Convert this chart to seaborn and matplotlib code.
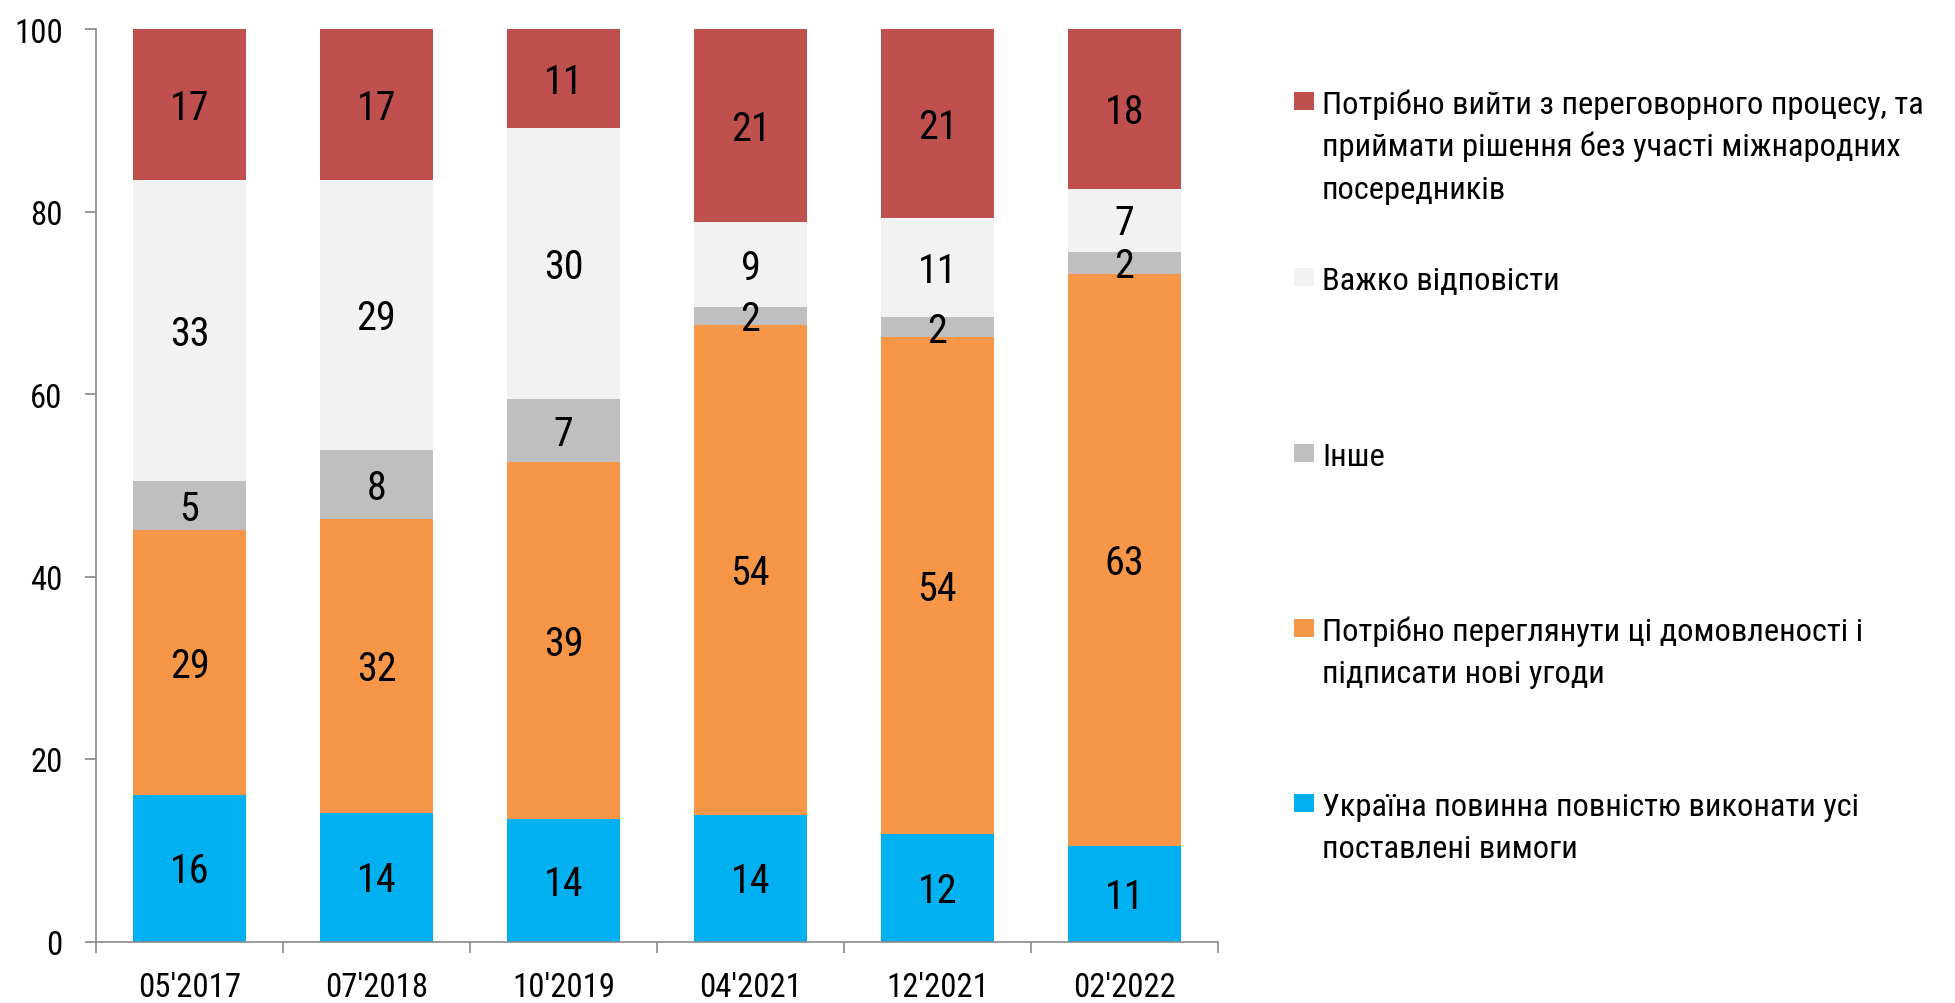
import matplotlib
matplotlib.use("Agg")
import matplotlib.pyplot as plt
import seaborn as sns
import pandas as pd
import numpy as np
from matplotlib import font_manager
from matplotlib.patches import Rectangle

# ---------------- data ----------------
waves = ["05'2017", "07'2018", "10'2019", "04'2021", "12'2021", "02'2022"]
comply = [16.1, 14.1, 13.4, 13.9, 11.8, 10.5]
revise = [29.0, 32.2, 39.2, 53.7, 54.4, 62.7]
other = [5.4, 7.6, 6.8, 1.9, 2.2, 2.4]
hard = [32.9, 29.5, 29.7, 9.4, 10.9, 6.9]
exit_ = [16.6, 16.6, 10.9, 21.1, 20.7, 17.5]

comply_lbl = [16, 14, 14, 14, 12, 11]
revise_lbl = [29, 32, 39, 54, 54, 63]
other_lbl = [5, 8, 7, 2, 2, 2]
hard_lbl = [33, 29, 30, 9, 11, 7]
exit_lbl = [17, 17, 11, 21, 21, 18]

series_names = [
    "Україна повинна повністю виконати усі\nпоставлені вимоги",
    "Потрібно переглянути ці домовленості і\nпідписати нові угоди",
    "Інше",
    "Важко відповісти",
    "Потрібно вийти з переговорного процесу, та\nприймати рішення без участі міжнародних\nпосередників",
]
colors = ["#00B0F0", "#F79646", "#BFBFBF", "#F2F2F2", "#C0504D"]
yticks = [0, 20, 40, 60, 80, 100]

# ---------------- fonts ----------------
sns.set_style("white")
fam = ["Liberation Sans", "DejaVu Sans"]
for cand in ["Roboto Condensed", "Liberation Sans Narrow", "PT Sans Narrow"]:
    try:
        font_manager.findfont(font_manager.FontProperties(family=cand),
                              fallback_to_default=False)
        fam = [cand, "Liberation Sans", "DejaVu Sans"]
        break
    except Exception:
        pass
plt.rcParams["font.family"] = fam

W, H = 1955, 1004
fig = plt.figure(figsize=(W / 100, H / 100), dpi=100)
fig.patch.set_facecolor("white")
renderer = fig.canvas.get_renderer()


def width_at(s, size):
    t = fig.text(0, 0, s, fontsize=size)
    w = t.get_window_extent(renderer).width
    t.remove()
    return w


def fit(s, target, base=20.0):
    return base * target / width_at(s, base)


CAPR = 0.711
# tick labels: compromise between width fit and height fit
fw = (fit("100", 48) + fit("05'2017", 102)) / 2
fh = 23.5 / CAPR * 0.72
FS_TICK = float(np.sqrt(fw * fh))
# bar labels
fw = (fit("17", 36) + fit("63", 37)) / 2
fh = 31 / CAPR * 0.72
FS_BAR = float(np.sqrt(fw * fh))
# legend: must fit on the right
FS_LEG = min(fit("Потрібно вийти з переговорного процесу, та", 626),
             fit("Важко відповісти", 237))

ax = fig.add_axes([96 / W, 1 - 942.5 / H, (1218 - 96) / W, (942.5 - 30) / H])

df = pd.DataFrame({"wave": waves, "s0": comply, "s1": revise, "s2": other,
                   "s3": hard, "s4": exit_})
cols = ["s0", "s1", "s2", "s3", "s4"]
cum = df[cols].cumsum(axis=1)
labels = [comply_lbl, revise_lbl, other_lbl, hard_lbl, exit_lbl]

# draw from top layer downward so lower layers cover the cumulative bars
for j in range(4, -1, -1):
    d = pd.DataFrame({"wave": waves, "v": cum[cols[j]].values})
    sns.barplot(data=d, x="wave", y="v", color=colors[j], saturation=1,
                width=0.6, ax=ax, linewidth=0, edgecolor="none", order=waves)

for j in range(5):
    for i in range(len(waves)):
        bottom = cum[cols[j]].values[i] - df[cols[j]].values[i]
        mid = bottom + df[cols[j]].values[i] / 2
        ax.annotate(str(labels[j][i]), (i, mid), xytext=(0, -CAPR * FS_BAR / 2),
                    textcoords="offset points", ha="center", va="baseline",
                    fontsize=FS_BAR, color="black")

ax.set_ylim(0, 100)
ax.set_xlim(-0.5, len(waves) - 0.5)
ax.set_xlabel("")
ax.set_ylabel("")
ax.set_yticks(yticks)
ax.set_yticklabels([str(v) for v in yticks])
ax.set_xticks(range(len(waves)))
ax.set_xticklabels(waves)
ax.set_xticks(np.arange(-0.5, len(waves), 1.0), minor=True)
ax.tick_params(axis="x", which="major", length=0, pad=21, labelsize=FS_TICK, colors="black")
ax.tick_params(axis="x", which="minor", length=8, width=1.2, color="#898989", direction="out")
ax.tick_params(axis="y", which="major", length=8, width=1.2, color="#898989",
               direction="out", pad=16, labelsize=FS_TICK, labelcolor="black")
ax.tick_params(axis="y", left=True)
ax.tick_params(axis="x", bottom=True, which="both")
for s in ["top", "right"]:
    ax.spines[s].set_visible(False)
for s in ["left", "bottom"]:
    ax.spines[s].set_color("#898989")
    ax.spines[s].set_linewidth(1.2)
ax.set_facecolor("none")
ax.grid(False)

# ---------------- legend (manual, Excel style) ----------------
leg_order = [4, 3, 2, 1, 0]
first_centers = [102, 278, 454, 629, 804]
line_gap = 42.5
cap_px = CAPR * FS_LEG / 0.72
for idx, j in enumerate(leg_order):
    yc = first_centers[idx]
    fig.add_artist(Rectangle((1294 / W, 1 - (yc + 9) / H), 20 / W, 18 / H,
                             transform=fig.transFigure, facecolor=colors[j],
                             edgecolor="none"))
    for li, line in enumerate(series_names[j].split("\n")):
        yb = yc + li * line_gap + cap_px / 2
        fig.text(1322 / W, 1 - yb / H, line, ha="left", va="baseline",
                 fontsize=FS_LEG, color="black")

fig.savefig("out.png", dpi=100, facecolor="white")
